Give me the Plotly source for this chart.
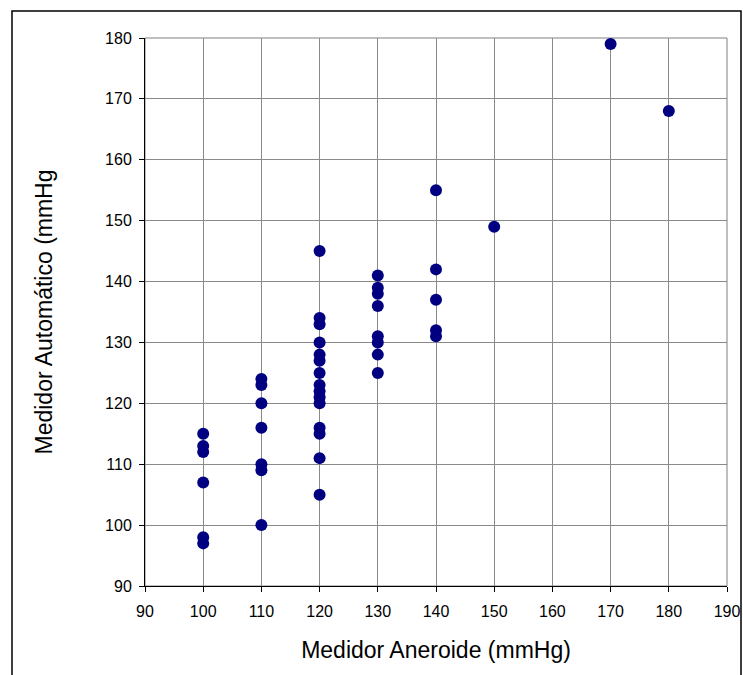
import plotly.graph_objects as go

aneroide = [100]*6 + [110]*7 + [120]*15 + [130]*8 + [140]*5 + [150, 170, 180]
automatico = [115, 113, 112, 107, 98, 97,
              124, 123, 120, 116, 110, 109, 100,
              145, 134, 133, 130, 128, 127, 125, 123, 122, 121, 120, 116, 115, 111, 105,
              141, 139, 138, 136, 131, 130, 128, 125,
              155, 142, 137, 132, 131,
              149, 179, 168]

x_ticks = list(range(90, 191, 10))
y_ticks = list(range(90, 181, 10))

W, H = 743, 675
L, R, T, B = 145, 16, 38, 675 - 586
PW, PH = W - L - R, H - T - B

fig = go.Figure()
fig.add_trace(go.Scatter(
    x=aneroide, y=automatico, mode="markers",
    marker=dict(color="#000080", size=12, line=dict(width=0)),
    showlegend=False, cliponaxis=False,
))

font = "Liberation Sans, Arial, sans-serif"
fig.update_layout(
    width=W, height=H,
    margin=dict(l=L, r=R, t=T, b=B, autoexpand=False),
    paper_bgcolor="white", plot_bgcolor="white",
    font=dict(family=font, color="black", size=16),
    xaxis=dict(range=[90, 190], tickvals=x_ticks, showgrid=True,
               gridcolor="#8a8a8a", gridwidth=1, zeroline=False,
               showline=True, linecolor="black", linewidth=1,
               ticks="outside", ticklen=5, tickcolor="black",
               tickfont=dict(size=16), automargin=False, ticklabelstandoff=6,
               title=dict(text="Medidor Aneroide (mmHg)", font=dict(size=23), standoff=22)),
    yaxis=dict(range=[90, 180], tickvals=y_ticks, showgrid=True,
               gridcolor="#8a8a8a", gridwidth=1, zeroline=False,
               showline=True, linecolor="black", linewidth=1,
               ticks="outside", ticklen=5, tickcolor="black",
               tickfont=dict(size=16), automargin=False, ticklabelstandoff=4,
               title=dict(text="Medidor Automático (mmHg", font=dict(size=23), standoff=46)),
    shapes=[
        dict(type="rect", xref="paper", yref="paper", x0=0, x1=1, y0=0, y1=1,
             line=dict(color="#808080", width=1), layer="below"),
        dict(type="rect", xref="paper", yref="paper",
             x0=-(145 - 12) / PW, x1=(741 - 145) / PW,
             y0=-(700 - 586) / PH, y1=(586 - 11) / PH,
             line=dict(color="black", width=1.5), layer="below"),
    ],
)

fig.write_html(
    "out.html",
    config={"displayModeBar": False},
    post_script="document.body.style.margin='0';document.body.style.overflow='hidden';"
                "document.documentElement.style.overflow='hidden';",
)
